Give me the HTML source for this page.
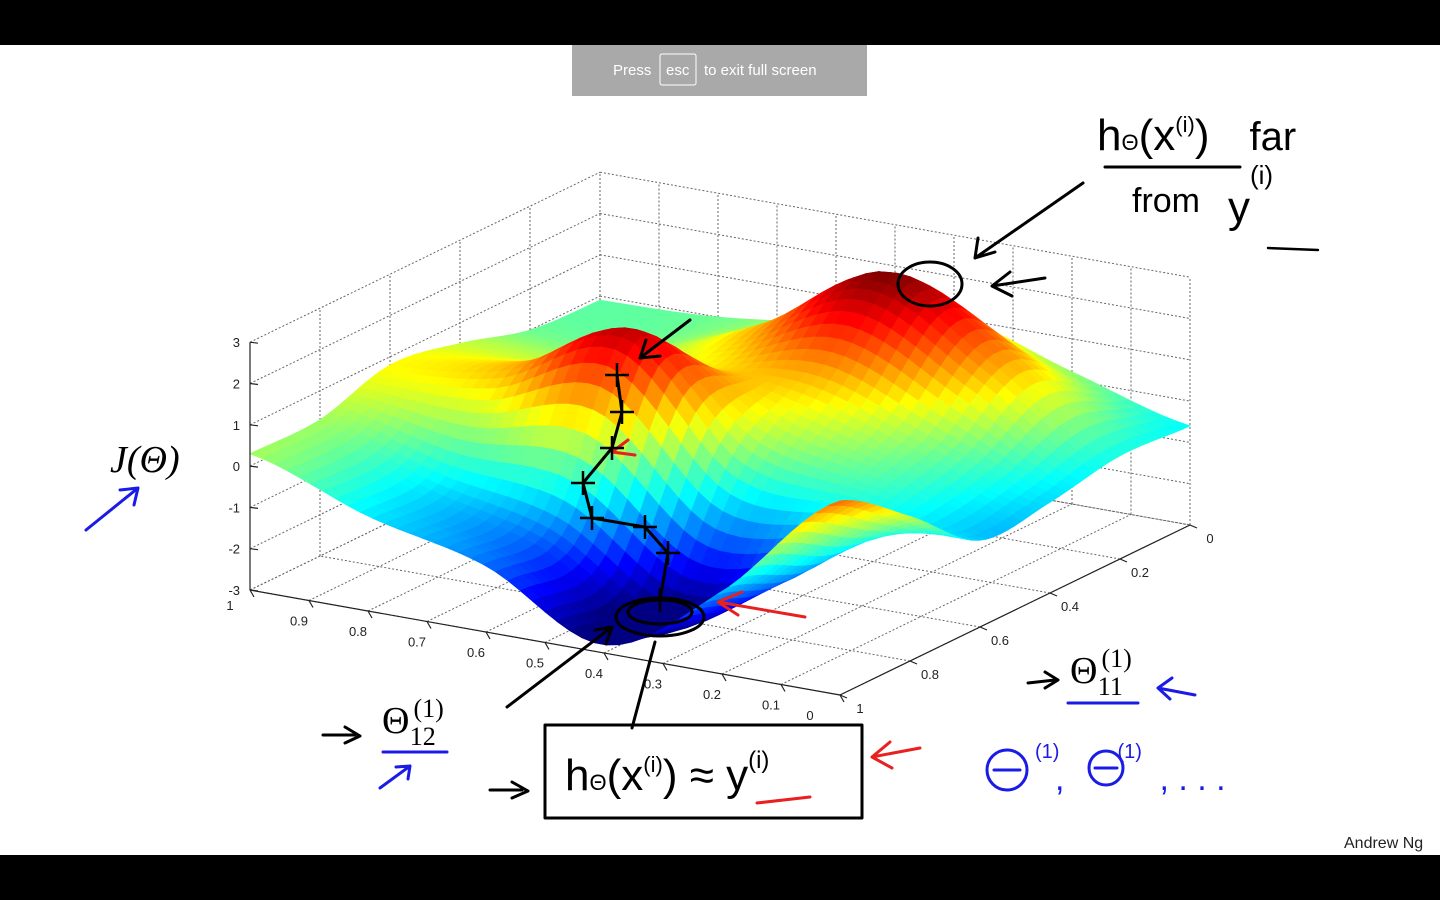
<!DOCTYPE html>
<html><head><meta charset="utf-8"><style>
html,body{margin:0;padding:0;width:1440px;height:900px;overflow:hidden;background:#000}
svg{display:block}
.hw{font-family:"Liberation Sans",sans-serif;}
.tk{font-family:"Liberation Sans",sans-serif;font-size:13px;fill:#222}
.ser{font-family:"Liberation Serif",serif;}
</style></head><body>
<svg id="svg" width="1440" height="900" xmlns="http://www.w3.org/2000/svg">
<rect x="0" y="0" width="1440" height="45" fill="#000"/>
<rect x="0" y="45" width="1440" height="810" fill="#fff"/>
<rect x="0" y="855" width="1440" height="45" fill="#000"/>
<g id="walls"></g>
<g id="surface"></g>
<g id="axes"></g>

<g fill="none" stroke="#000" stroke-width="3" stroke-linecap="round" stroke-linejoin="round">
<polyline points="617,375 622,412 612,448 583,483 592,518 645,527 668,553 660,600"/>
<path d="M1083,183 L975,258 M975,258 L978,238 M975,258 L995,252"/>
<path d="M1045,278 L992,286 M992,286 L1010,272 M992,286 L1012,296"/>
<path d="M690,320 L640,358 M640,358 L646,340 M640,358 L660,356"/>
<ellipse cx="930" cy="284" rx="32" ry="22"/>
<ellipse cx="660" cy="617" rx="44" ry="19"/>
<ellipse cx="660" cy="612" rx="32" ry="12"/>
<path d="M632,728 L655,642 M507,707 L612,627 M612,627 L595,630 M612,627 L606,644"/>
<rect x="545" y="725" width="317" height="93"/>
<path d="M323,735 L355,735 M345,727 L360,736 L345,743"/>
<path d="M490,790 L522,790 M512,782 L528,791 L512,798"/>
<path d="M1028,683 L1055,680 M1045,672 L1058,680 L1045,688"/>
<line x1="1105" y1="167" x2="1240" y2="167"/>
<line x1="1268" y1="248" x2="1318" y2="250" stroke-width="2.5"/>
</g>
<g fill="none" stroke="#1b1be6" stroke-width="3" stroke-linecap="round">
<path d="M86,530 L138,488 M138,488 L120,490 M138,488 L134,505"/>
<line x1="383" y1="752" x2="447" y2="752"/>
<path d="M380,788 L410,766 M410,766 L396,767 M410,766 L408,779"/>
<line x1="1068" y1="703" x2="1138" y2="703"/>
<path d="M1195,695 L1158,688 M1158,688 L1172,678 M1158,688 L1170,699"/>
<circle cx="1007" cy="770" r="20"/>
<line x1="994" y1="770" x2="1020" y2="770"/>
<circle cx="1106" cy="768" r="17"/>
<line x1="1095" y1="768" x2="1117" y2="768"/>
</g>
<g fill="none" stroke="#e82020" stroke-width="3" stroke-linecap="round">
<path d="M805,617 L718,602 M718,602 L742,592 M718,602 L738,615"/>
<path d="M920,748 L872,757 M872,757 L890,742 M872,757 L892,768"/>
<path d="M757,803 L810,797"/>
<path d="M612,452 L628,440 M612,452 L635,455" stroke-width="3"/>
</g>
<text x="110" y="472" class="ser" font-size="38" font-style="italic" fill="#000">J(Θ)</text>
<text x="382" y="733" class="ser" font-size="38" fill="#000">Θ<tspan font-size="26" dy="-16" dx="4">(1)</tspan><tspan font-size="26" dx="-34" dy="28">12</tspan></text>
<text x="1070" y="683" class="ser" font-size="38" fill="#000">Θ<tspan font-size="26" dy="-16" dx="4">(1)</tspan><tspan font-size="26" dx="-34" dy="28">11</tspan></text>
<text x="1097" y="150" class="hw" font-size="44" fill="#000">h<tspan font-size="22">Θ</tspan>(x<tspan font-size="22" dy="-18">(i)</tspan><tspan dy="18">)</tspan><tspan dx="40" font-size="40">far</tspan></text>
<text x="1132" y="212" class="hw" font-size="34" fill="#000">from<tspan dx="28" font-size="44" dy="10">y</tspan><tspan font-size="26" dy="-38">(i)</tspan></text>
<text x="565" y="790" class="hw" font-size="44" fill="#000">h<tspan font-size="22">Θ</tspan>(x<tspan font-size="22" dy="-18">(i)</tspan><tspan dy="18">)</tspan> ≈ y<tspan font-size="24" dy="-22">(i)</tspan></text>
<text x="1035" y="758" class="hw" font-size="20" fill="#1b1be6">(1)<tspan dx="58">(1)</tspan></text>
<text x="1055" y="790" class="hw" font-size="34" fill="#1b1be6">,<tspan dx="95">, . . .</tspan></text>
<text x="1344" y="848" class="hw" font-size="16" fill="#222">Andrew Ng</text>
<g>
<rect x="572" y="45" width="295" height="51" fill="#a9a9a9"/>
<text x="613" y="75" class="hw" font-size="15" fill="#fff">Press</text>
<rect x="660" y="54" width="36" height="31" rx="2" fill="none" stroke="#fff" stroke-width="1"/>
<text x="666" y="75" class="hw" font-size="15" fill="#fff">esc</text>
<text x="704" y="75" class="hw" font-size="15" fill="#fff">to exit full screen</text>
</g>
</svg>
<script>
const zTicks=[3,2,1,0,-1,-2,-3];
const vTicks=[1,0.9,0.8,0.7,0.6,0.5,0.4,0.3,0.2,0.1,0];
const uTicks=[0,0.2,0.4,0.6,0.8,1];
const zRow0=[-0.6,0.2,1.0,0.4,0.0,-0.1];
const zRow1=[-0.5,1.4,2.9,1.2,0.1,0.0];
const zRow2=[-0.8,0.2,1.2,0.9,0.5,0.5];
const zRow3=[-0.9,-0.4,0.0,2.5,1.2,0.8];
const zRow4=[0.5,-1.5,-2.8,-1.2,-0.6,0.3];
const zRow5=[1.7,-1.0,-2.8,-1.4,-0.7,0.3];
const zGrid=[zRow0,zRow1,zRow2,zRow3,zRow4,zRow5];

const NS="http://www.w3.org/2000/svg";
const F=[840,695],R=[1190,525],L=[250,590],ZS=41.3;
function P(u,v,z){const a=1-u;return [F[0]+a*(R[0]-F[0])+v*(L[0]-F[0]), F[1]+a*(R[1]-F[1])+v*(L[1]-F[1])-(z+3)*ZS];}
function mk(tag,attrs,parent){const e=document.createElementNS(NS,tag);for(const k in attrs)e.setAttribute(k,attrs[k]);parent.appendChild(e);return e;}
function cr(p0,p1,p2,p3,t){return 0.5*((2*p1)+(-p0+p2)*t+(2*p0-5*p1+4*p2-p3)*t*t+(-p0+3*p1-3*p2+p3)*t*t*t);}
function g(i,j){i=Math.max(0,Math.min(5,i));j=Math.max(0,Math.min(5,j));return zGrid[i][j];}
function zAt(u,v){const x=u*5,y=v*5;let i=Math.min(4,Math.floor(x)),j=Math.min(4,Math.floor(y));const tx=x-i,ty=y-j;const r=[];
for(let k=-1;k<3;k++)r.push(cr(g(i+k,j-1),g(i+k,j),g(i+k,j+1),g(i+k,j+2),ty));return cr(r[0],r[1],r[2],r[3],tx);}
function jet(z){let t=(z+2.7)/5.6;t=Math.max(0,Math.min(1,t));const c=x=>Math.round(255*Math.max(0,Math.min(1,1.5-Math.abs(x))));return `rgb(${c(4*t-3)},${c(4*t-2)},${c(4*t-1)})`;}
const svg=document.getElementById('svg');
const walls=document.getElementById('walls'),axes=document.getElementById('axes'),surf=document.getElementById('surface');
const dot={stroke:"#666","stroke-width":1,"stroke-dasharray":"2,2",fill:"none"};
function line(a,b,attrs,parent){return mk('line',Object.assign({x1:a[0],y1:a[1],x2:b[0],y2:b[1]},attrs),parent);}
for(let s=0;s<=5;s++){const u=s/5;const l=line(P(u,1,-3),P(u,1,3),dot,walls);}
for(let s=0;s<=10;s++){const v=s/10;const l=line(P(0,v,-3),P(0,v,3),dot,walls);}
zTicks.forEach(z=>{const l1=line(P(1,1,z),P(0,1,z),dot,walls);
const l2=line(P(0,1,z),P(0,0,z),dot,walls);});
for(let s=0;s<=10;s++){const v=s/10;const l=line(P(1,v,-3),P(0,v,-3),dot,walls);}
for(let s=0;s<=5;s++){const u=s/5;const l=line(P(u,0,-3),P(u,1,-3),dot,walls);}
const N=48,cells=[];
for(let i=0;i<N;i++)for(let j=0;j<N;j++){const u0=i/N,u1=(i+1)/N,v0=j/N,v1=(j+1)/N;
const z00=zAt(u0,v0),z10=zAt(u1,v0),z11=zAt(u1,v1),z01=zAt(u0,v1);
cells.push({k:(u0+u1)/2-(v0+v1)/2,pts:[P(u0,v0,z00),P(u1,v0,z10),P(u1,v1,z11),P(u0,v1,z01)],z:(z00+z10+z11+z01)/4});}
cells.sort((a,b)=>a.k-b.k);
cells.forEach(c=>{const col=jet(c.z);const p=mk('polygon',{points:c.pts.map(q=>q[0].toFixed(1)+","+q[1].toFixed(1)).join(" "),fill:col,stroke:col,"stroke-width":0.8},surf);

});
const ax={stroke:"#222","stroke-width":1.2};
line(P(1,1,-3),P(1,1,3),ax,axes);line(P(1,1,-3),P(1,0,-3),ax,axes);line(P(1,0,-3),P(0,0,-3),ax,axes);
zTicks.forEach(z=>{const p=P(1,1,z);line(p,[p[0]+8,p[1]+1],ax,axes);const t=mk('text',{x:p[0]-10,y:p[1]+5,"text-anchor":"end",class:"tk"},axes);t.textContent=z;

});
vTicks.forEach(v=>{const p=P(1,v,-3);line(p,[p[0]+4,p[1]+7],ax,axes);const t=mk('text',{x:p[0]+(v==1?-20:(v==0?-30:-10)),y:p[1]+(v==1?20:25),"text-anchor":"middle",class:"tk"},axes);t.textContent=v;

});
uTicks.forEach(u=>{const p=P(u,0,-3);line(p,[p[0]+7,p[1]+3],ax,axes);const t=mk('text',{x:p[0]+20,y:p[1]+18,"text-anchor":"middle",class:"tk"},axes);t.textContent=u;

});
const starPts=[[617,375],[622,412],[612,448],[583,483],[592,518],[645,527],[668,553],[660,600]];
const sg=mk('g',{},svg);
starPts.forEach(s=>{const st=mk('path',{d:`M${s[0]-12},${s[1]} L${s[0]+12},${s[1]} M${s[0]},${s[1]-12} L${s[0]},${s[1]+12}`,stroke:"#000","stroke-width":2.5},sg);

});
</script>
</body></html>
